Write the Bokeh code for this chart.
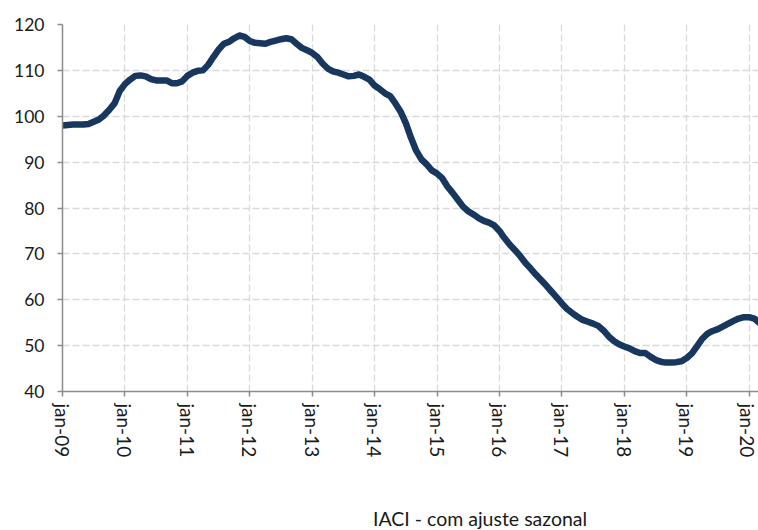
from bokeh.plotting import figure
from bokeh.layouts import column
from bokeh.models import FixedTicker, Range1d, Legend, LegendItem, ColumnDataSource
from bokeh.embed import file_html
from bokeh.resources import INLINE

series_name = "IACI - com ajuste sazonal"
year_labels = ["jan-09", "jan-10", "jan-11", "jan-12", "jan-13", "jan-14",
               "jan-15", "jan-16", "jan-17", "jan-18", "jan-19", "jan-20"]
y_ticks = [40, 50, 60, 70, 80, 90, 100, 110, 120]

# monthly values, jan-09 .. mar-20
values = [
    98.0, 98.1, 98.2, 98.2, 98.2, 98.3, 98.8, 99.3, 100.2, 101.4, 102.8, 105.5,   # 2009
    107.0, 108.0, 108.8, 108.9, 108.7, 108.1, 107.8, 107.8, 107.8, 107.2, 107.2, 107.6,  # 2010
    108.8, 109.5, 109.9, 110.0, 111.2, 112.9, 114.5, 115.8, 116.2, 117.0, 117.6, 117.3,  # 2011
    116.4, 116.0, 115.9, 115.8, 116.2, 116.5, 116.8, 117.0, 116.8, 115.8, 114.9, 114.4,  # 2012
    113.8, 112.9, 111.5, 110.4, 109.8, 109.5, 109.1, 108.7, 108.8, 109.1, 108.6, 108.0,  # 2013
    106.7, 105.9, 105.0, 104.4, 102.8, 101.0, 98.5, 95.3, 92.5, 90.6, 89.5, 88.2,        # 2014
    87.5, 86.5, 84.7, 83.3, 81.8, 80.3, 79.3, 78.6, 77.8, 77.2, 76.8, 76.2,              # 2015
    75.0, 73.4, 72.0, 70.8, 69.5, 68.0, 66.8, 65.5, 64.3, 63.1, 61.8, 60.5,              # 2016
    59.2, 58.0, 57.1, 56.3, 55.6, 55.2, 54.8, 54.3, 53.3, 52.0, 51.0, 50.3,              # 2017
    49.8, 49.4, 48.8, 48.4, 48.4, 47.6, 46.9, 46.5, 46.3, 46.3, 46.4, 46.6,              # 2018
    47.3, 48.3, 49.9, 51.5, 52.6, 53.2, 53.6, 54.2, 54.8, 55.4, 55.9, 56.2,              # 2019
    56.2, 55.9, 54.9,                                                                    # 2020
]

months = list(range(len(values)))
source = ColumnDataSource(data=dict(m=months, v=values))

FONT = "Lato"
TEXT = "#1a1a1a"
AXIS = "#8c8c8c"
GRID = "#d9d9d9"
LINE = "#17375e"

p = figure(width=758, height=496, output_backend="svg", toolbar_location=None,
           x_range=Range1d(0, 133.8), y_range=Range1d(40, 120),
           min_border_left=62, min_border_right=0, min_border_top=24,
           min_border_bottom=105)
p.outline_line_color = None
p.background_fill_color = "white"
p.border_fill_color = "white"

r = p.line("m", "v", source=source, line_color=LINE, line_width=6.5,
           line_cap="round", line_join="round")

tick_pos = [12 * i for i in range(len(year_labels))]
p.xaxis.ticker = FixedTicker(ticks=tick_pos)
p.xaxis.major_label_overrides = {t: lab for t, lab in zip(tick_pos, year_labels)}
p.xaxis.major_label_orientation = "vertical"
p.yaxis.ticker = FixedTicker(ticks=y_ticks)

for ax in (p.xaxis, p.yaxis):
    ax.axis_line_color = AXIS
    ax.axis_line_width = 1.5
    ax.major_tick_line_color = AXIS
    ax.major_tick_line_width = 1.5
    ax.major_tick_out = 5
    ax.major_tick_in = 0
    ax.minor_tick_line_color = None
    ax.major_label_text_font = FONT
    ax.major_label_text_color = TEXT
p.yaxis.major_label_text_font_size = "17.5px"
p.xaxis.major_label_text_font_size = "19px"
p.yaxis.major_label_standoff = 13
p.xaxis.major_label_standoff = 7

p.xgrid.ticker = FixedTicker(ticks=tick_pos)
p.xgrid.grid_line_color = GRID
p.xgrid.grid_line_dash = "7 3"
p.xgrid.grid_line_width = 1.3
p.ygrid.grid_line_color = GRID
p.ygrid.grid_line_dash = "7 3"
p.ygrid.grid_line_width = 1.3

# legend strip below the chart
p2 = figure(width=758, height=34, output_backend="svg", toolbar_location=None,
            x_axis_type=None, y_axis_type=None,
            x_range=Range1d(0, 1), y_range=Range1d(0, 1),
            min_border_left=0, min_border_right=0, min_border_top=0,
            min_border_bottom=0)
p2.outline_line_color = None
p2.background_fill_color = "white"
p2.border_fill_color = "white"
r2 = p2.line(x=[], y=[], line_color=LINE, line_width=6.5, line_cap="round")

legend = Legend(items=[LegendItem(label=series_name, renderers=[r2])],
                location=(264, 0), orientation="horizontal",
                border_line_color=None, background_fill_alpha=0,
                glyph_width=45, glyph_height=18, label_standoff=2,
                label_text_font=FONT, label_text_font_size="19.5px",
                label_text_color=TEXT, padding=0, margin=0)
p2.add_layout(legend, "center")

layout = column(p, p2, spacing=0)
open("out.html", "w").write(file_html(layout, INLINE))
